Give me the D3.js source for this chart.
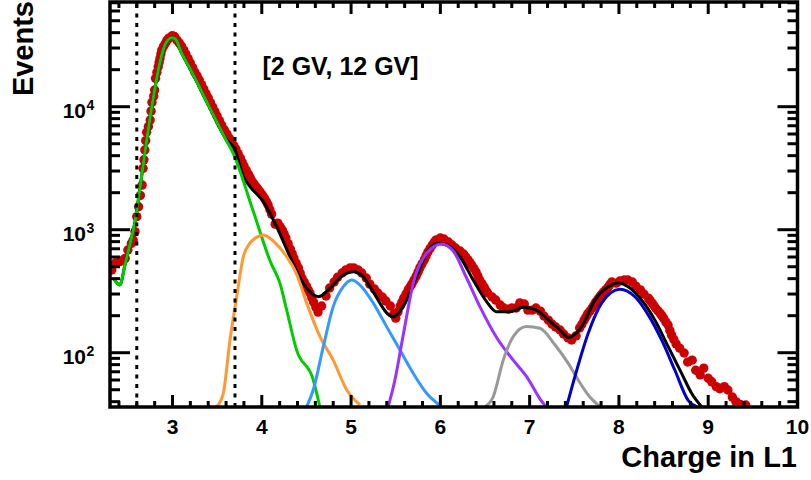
<!DOCTYPE html>
<html>
<head>
<meta charset="utf-8">
<script src="https://cdn.jsdelivr.net/npm/d3@7"></script>
<style>
  html, body { margin: 0; padding: 0; background: #fff; }
  svg { display: block; }
  text { font-family: "Liberation Sans", Arial, sans-serif; font-weight: bold; fill: #000; }
</style>
</head>
<body>
<div id="chart"></div>
<script>
const charge = [2.32, 2.36, 2.41, 2.45, 2.47, 2.50, 2.54, 2.56, 2.58, 2.60, 2.62, 2.64, 2.66, 2.67, 2.68, 2.69, 2.70, 2.71, 2.73, 2.75, 2.76, 2.77, 2.79, 2.80, 2.81, 2.825, 2.84, 2.85, 2.86, 2.87, 2.88, 2.90, 2.92, 2.935, 2.95, 2.97, 3.00,
  3.025, 3.05, 3.075, 3.10, 3.125, 3.15, 3.175, 3.20, 3.225, 3.25, 3.275, 3.30, 3.325, 3.35, 3.375, 3.40, 3.425, 3.45, 3.475, 3.50, 3.525, 3.55, 3.58, 3.61, 3.635, 3.66, 3.685, 3.71, 3.735, 3.76, 3.78, 3.80, 3.825, 3.85, 3.87, 3.89,
  3.915, 3.94, 3.96, 3.98, 4.005, 4.03, 4.05, 4.07, 4.09, 4.11, 4.15, 4.18, 4.205, 4.23, 4.25, 4.27, 4.295, 4.32, 4.34, 4.36, 4.385, 4.41, 4.43, 4.45, 4.475, 4.50, 4.52, 4.54, 4.56, 4.58, 4.605, 4.63, 4.67,
  4.72, 4.76, 4.81, 4.85, 4.90, 4.94, 4.99, 5.03, 5.08, 5.12, 5.17, 5.21, 5.26, 5.30, 5.35, 5.39, 5.44, 5.48, 5.50, 5.525, 5.55, 5.57, 5.59, 5.615, 5.64, 5.66, 5.68, 5.705, 5.73, 5.75, 5.77, 5.795, 5.82, 5.84, 5.86, 5.885, 5.91, 5.93,
  5.95, 6.00, 6.04, 6.09, 6.13, 6.17, 6.22, 6.26, 6.285, 6.31, 6.33, 6.35, 6.375, 6.40, 6.42, 6.44, 6.465, 6.49, 6.51, 6.53, 6.58, 6.62, 6.67, 6.71, 6.76, 6.80, 6.85, 6.89, 6.94, 6.98, 7.03, 7.07, 7.12, 7.16, 7.21,
  7.25, 7.29, 7.34, 7.38, 7.43, 7.47, 7.52, 7.56, 7.585, 7.61, 7.63, 7.65, 7.675, 7.70, 7.72, 7.74, 7.765, 7.79, 7.81, 7.83, 7.855, 7.88, 7.90, 7.92, 7.97, 8.01, 8.06, 8.10, 8.15, 8.19, 8.24, 8.28, 8.33, 8.35,
  8.37, 8.39, 8.41, 8.435, 8.46, 8.48, 8.50, 8.525, 8.55, 8.57, 8.59, 8.615, 8.64, 8.68, 8.73, 8.77, 8.82, 8.86, 8.91, 8.95, 9.00, 9.04, 9.09, 9.13, 9.18, 9.22, 9.27, 9.31, 9.36, 9.42]
const events = [470, 536, 550, 570, 585, 684, 774, 824, 964, 1277, 1538, 1900, 2307, 3155, 3700, 4447, 5300, 6194, 6900, 7800, 9200, 10860, 12200, 13670, 17000, 19000, 21100, 22900, 24700, 26800, 28900, 31000, 32800, 34300, 35500, 36400, 37800,
  37000, 34800, 33000, 31100, 29000, 26800, 24600, 22600, 20800, 19100, 17800, 16500, 15100, 13900, 12800, 11800, 10800, 9950, 9150, 8400, 7700, 7100, 6500, 6000, 5550, 5160, 4850, 4530, 4150, 3830, 3550, 3300, 3050, 2840, 2650, 2490,
  2350, 2220, 2120, 2030, 1920, 1810, 1700, 1590, 1460, 1340, 1110, 1130, 1060, 995, 925, 857, 770, 697, 640, 589, 535, 489, 445, 405, 375, 348, 325, 306, 280, 258, 235, 214, 240,
  289, 336, 376, 412, 445, 470, 489, 489, 470, 445, 405, 361, 330, 306, 284, 263, 240, 207, 191, 215, 240, 258, 278, 300, 324, 342, 361, 390, 420, 452, 489, 528, 568, 612, 659, 705, 751, 790,
  824, 857, 840, 794, 751, 710, 671, 635, 600, 568, 540, 517, 485, 453, 420, 390, 365, 342, 322, 306, 284, 268, 244, 231, 226, 231, 231, 254, 249, 222, 222, 231, 218, 199, 184,
  171, 162, 153, 142, 132, 127, 137, 159, 170, 184, 195, 207, 218, 231, 244, 258, 273, 289, 300, 312, 326, 342, 358, 376, 368, 383, 390, 390, 376, 348, 324, 300, 278, 265,
  254, 242, 231, 220, 210, 200, 191, 178, 168, 152, 139, 128, 118, 109, 99.5, 84, 87, 72, 66, 75, 62, 58, 53, 51, 53, 49.8, 43.6, 40, 37.9, 37.6]

// fitted templates [charge, events]
const fitZ3 = [[2.345, 397], [2.41, 356], [2.468, 517], [2.524, 765], [2.58, 1156], [2.636, 2181], [2.692, 4285], [2.748, 8090], [2.804, 14190], [2.86, 23100], [2.916, 31800], [2.99, 36300], [3.03, 35600],
  [3.1, 27500], [3.2, 20200], [3.4, 10360], [3.6, 5360], [3.68, 4180], [3.9, 1445], [4.1, 541], [4.204, 366], [4.279, 222], [4.39, 105], [4.577, 60], [4.65, 36.4]]
const fitTotal = [[2.345, 397], [2.41, 356], [2.468, 517], [2.524, 765], [2.58, 1156], [2.636, 2181], [2.692, 4285], [2.748, 8090], [2.804, 14190], [2.86, 23100], [2.916, 31800], [2.99, 36300], [3.03, 35600],
  [3.1, 27500], [3.2, 20200], [3.4, 10360], [3.6, 5450], [3.70, 4450], [3.793, 2700], [3.868, 2240], [4.017, 1690], [4.167, 1057], [4.316, 603], [4.465, 366], [4.633, 285], [4.764, 334], [4.913, 428], [5.025, 456], [5.136, 415], [5.211, 344],
  [5.472, 196], [5.584, 237], [5.734, 415], [5.846, 643], [5.958, 775], [6.07, 751], [6.219, 603], [6.368, 390], [6.518, 260], [6.63, 215], [6.779, 215], [6.928, 234], [7.078, 222], [7.19, 190],
  [7.339, 153], [7.432, 133], [7.582, 163], [7.731, 268], [7.88, 344], [7.992, 371], [8.104, 344], [8.254, 268], [8.403, 184], [8.552, 112], [8.702, 68], [8.814, 46.8], [8.926, 36.4]]
const fitZ4 = [[3.495, 36.4], [3.569, 46.8], [3.644, 127], [3.719, 285], [3.793, 603], [3.868, 780], [3.924, 851], [4.017, 906], [4.129, 809], [4.279, 603], [4.39, 436], [4.503, 253], [4.652, 135], [4.80, 87], [4.95, 50], [5.10, 37.6]]
const fitZ5 = [[4.503, 36.4], [4.577, 50], [4.689, 112], [4.80, 237], [4.913, 344], [5.007, 390], [5.10, 355], [5.249, 253], [5.398, 163], [5.548, 105], [5.696, 68], [5.846, 46.8], [6.014, 36.4]]
const fitZ6 = [[5.416, 36.4], [5.491, 60], [5.584, 139], [5.696, 366], [5.846, 643], [6.014, 766], [6.144, 671], [6.294, 405], [6.443, 237], [6.63, 133], [6.816, 87], [6.966, 64], [7.152, 38.8], [7.19, 36.4]]
const fitZ7 = [[6.499, 36.4], [6.592, 43.8], [6.704, 87], [6.816, 135], [6.966, 163], [7.115, 158], [7.283, 116], [7.432, 82], [7.544, 60], [7.656, 45.3], [7.787, 36.4]]
const fitZ8 = [[7.414, 36.4], [7.507, 64], [7.656, 144], [7.806, 253], [8.011, 328], [8.179, 285], [8.328, 203], [8.478, 127], [8.627, 72], [8.776, 41], [8.87, 36.4]]

const components = [
  {data: fitZ3, color: "#00cc00"},
  {data: fitZ4, color: "#ff9933"},
  {data: fitZ5, color: "#3399ff"},
  {data: fitZ6, color: "#9933ff"},
  {data: fitZ7, color: "#999999"},
  {data: fitZ8, color: "#0000cc"},
]
const cuts = [2.6, 3.7]
const xTicks = [3, 4, 5, 6, 7, 8, 9, 10]
const yTicks = [100, 1000, 10000]

const width = 811, height = 480
const m = {left: 110, right: 797.5, top: 2, bottom: 407}

const x = d3.scaleLinear().domain([2.3, 10]).range([m.left, m.right])
const y = d3.scaleLog().domain([36.2, 71000]).range([m.bottom, m.top])

const svg = d3.select("#chart").append("svg")
  .attr("width", width)
  .attr("height", height)

svg.append("defs").append("clipPath")
  .attr("id", "plot-clip")
  .append("rect")
    .attr("x", m.left)
    .attr("y", m.top)
    .attr("width", m.right - m.left)
    .attr("height", m.bottom - m.top)

const plot = svg.append("g").attr("clip-path", "url(#plot-clip)")

// data points
plot.append("g")
  .selectAll("circle")
  .data(charge)
  .join("circle")
    .attr("cx", d => x(d))
    .attr("cy", (d, i) => y(events[i]))
    .attr("r", 4.7)
    .attr("fill", "#cc0000")

const line = d3.line()
  .x(d => x(d[0]))
  .y(d => y(d[1]))
  .curve(d3.curveMonotoneX)

plot.append("path")
  .attr("d", line(fitTotal))
  .attr("fill", "none")
  .attr("stroke", "#000")
  .attr("stroke-width", 3)
  .attr("stroke-linejoin", "round")

plot.selectAll("path.comp")
  .data(components)
  .join("path")
    .attr("class", "comp")
    .attr("d", d => line(d.data))
    .attr("fill", "none")
    .attr("stroke", d => d.color)
    .attr("stroke-width", 3)
    .attr("stroke-linejoin", "round")

// rigidity cut lines
svg.append("g")
  .selectAll("line")
  .data(cuts)
  .join("line")
    .attr("x1", d => x(d))
    .attr("x2", d => x(d))
    .attr("y1", m.top + 2)
    .attr("y2", m.bottom)
    .attr("stroke", "#000")
    .attr("stroke-width", 3)
    .attr("stroke-dasharray", "4,5.5")

// frame and ticks
const axes = svg.append("g").attr("stroke", "#000").attr("stroke-width", 3)

const xMinor = d3.range(24, 101, 2).map(d => d / 10).filter(d => !xTicks.includes(d))
for (const t of xMinor) {
  axes.append("line").attr("x1", x(t)).attr("x2", x(t)).attr("y1", m.bottom).attr("y2", m.bottom - 6)
  axes.append("line").attr("x1", x(t)).attr("x2", x(t)).attr("y1", m.top).attr("y2", m.top + 6)
}
for (const t of xTicks) {
  axes.append("line").attr("x1", x(t)).attr("x2", x(t)).attr("y1", m.bottom).attr("y2", m.bottom - 12)
  axes.append("line").attr("x1", x(t)).attr("x2", x(t)).attr("y1", m.top).attr("y2", m.top + 12)
}

const yMinor = []
for (const dec of [10, 100, 1000, 10000]) {
  for (let k = 2; k <= 9; k++) {
    const v = dec * k
    if (v >= 36.2 && v <= 71000) yMinor.push(v)
  }
}
for (const t of yMinor) {
  axes.append("line").attr("x1", m.left).attr("x2", m.left + 10).attr("y1", y(t)).attr("y2", y(t))
  axes.append("line").attr("x1", m.right).attr("x2", m.right - 10).attr("y1", y(t)).attr("y2", y(t))
}
for (const t of yTicks) {
  axes.append("line").attr("x1", m.left).attr("x2", m.left + 20).attr("y1", y(t)).attr("y2", y(t))
  axes.append("line").attr("x1", m.right).attr("x2", m.right - 20).attr("y1", y(t)).attr("y2", y(t))
}

axes.append("rect")
  .attr("x", m.left)
  .attr("y", m.top)
  .attr("width", m.right - m.left)
  .attr("height", m.bottom - m.top)
  .attr("fill", "none")
  .attr("stroke-width", 3.5)

// tick labels
svg.append("g")
  .selectAll("text")
  .data(xTicks)
  .join("text")
    .attr("x", d => x(d))
    .attr("y", 433.5)
    .attr("text-anchor", "middle")
    .attr("font-size", 21)
    .text(d => d)

const yLab = svg.append("g")
  .selectAll("g")
  .data(yTicks)
  .join("g")
yLab.append("text")
  .attr("x", 86)
  .attr("y", d => y(d) + 11.6)
  .attr("text-anchor", "end")
  .attr("font-size", 21)
  .text("10")
yLab.append("text")
  .attr("x", 86.5)
  .attr("y", d => y(d) + 3.3)
  .attr("font-size", 14)
  .text(d => Math.round(Math.log10(d)))

// titles
svg.append("text")
  .attr("transform", "translate(33,1) rotate(-90)")
  .attr("text-anchor", "end")
  .attr("font-size", 29)
  .text("Events")

svg.append("text")
  .attr("x", 797)
  .attr("y", 467)
  .attr("text-anchor", "end")
  .attr("font-size", 29)
  .text("Charge in L1")

svg.append("text")
  .attr("x", 262.5)
  .attr("y", 75)
  .attr("font-size", 25)
  .text("[2 GV, 12 GV]")
</script>
</body>
</html>
